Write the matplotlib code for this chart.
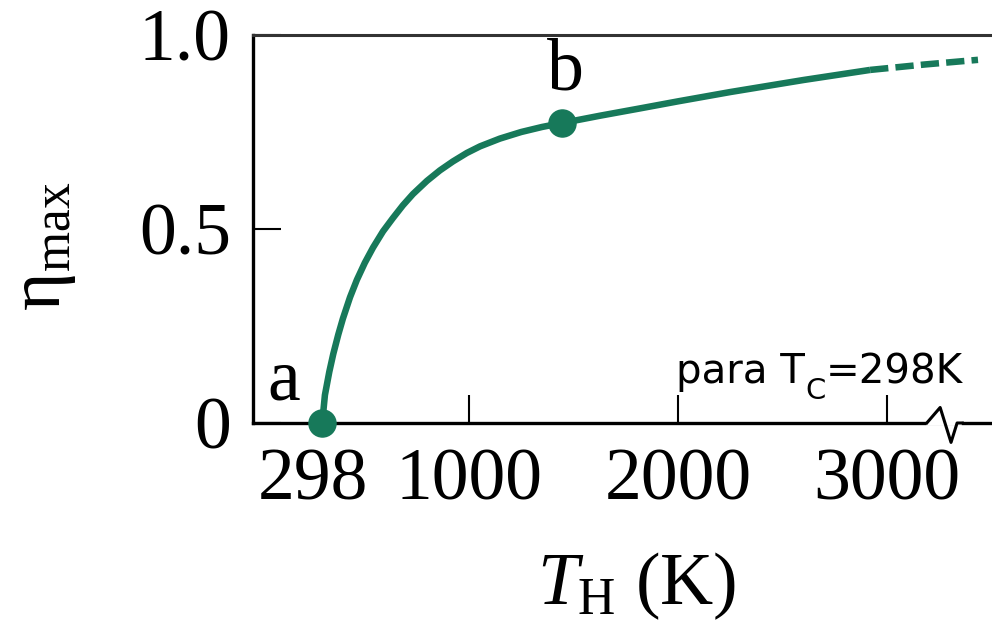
import matplotlib
matplotlib.use("Agg")
import matplotlib.pyplot as plt
import matplotlib.transforms as mtransforms

plt.rcParams['mathtext.fontset'] = 'custom'
plt.rcParams['mathtext.rm'] = 'Liberation Serif'
plt.rcParams['mathtext.it'] = 'Liberation Serif:italic'

# values
t_solid = [298, 311, 332, 351, 375, 397, 431, 464, 502, 541, 589, 636, 684, 732,
           799, 861, 923, 990, 1053, 1148, 1250, 1350, 1445, 1627, 1820, 2000,
           2250, 2600, 2919]
eta_solid = [0.0, 0.072, 0.132, 0.178, 0.228, 0.269, 0.324, 0.369, 0.413, 0.452,
             0.494, 0.528, 0.561, 0.590, 0.624, 0.651, 0.674, 0.696, 0.713, 0.733,
             0.750, 0.763, 0.773, 0.792, 0.811, 0.829, 0.853, 0.884, 0.91]
t_dash = [2919, 3180, 3435]
eta_dash = [0.91, 0.924, 0.936]
pts_t = [298, 1445]
pts_eta = [0.0, 0.773]
pt_names = ['a', 'b']

xticks = [298, 1000, 2000, 3000]
yticks = [0, 0.5, 1.0]
ytick_labels = ['0', '0.5', '1.0']

green = '#17795a'
serif = 'Liberation Serif'
big = 53

fig = plt.figure(figsize=(9.92, 6.2), dpi=100)
ax = fig.add_axes([253/992, 1-423/620, 1-253/992, (423-35)/620])

ax.plot(t_solid, eta_solid, color=green, lw=4.7, solid_capstyle='butt',
        solid_joinstyle='round', zorder=3)
ax.plot(t_dash, eta_dash, color=green, lw=4.7, dashes=(2.8, 1.1),
        dash_capstyle='butt', zorder=3)
ax.plot(pts_t, pts_eta, 'o', color=green, ms=19.5, clip_on=False, zorder=4)

ax.text(115, 0.106, pt_names[0], fontsize=big, family=serif, ha='center', va='center')
ax.text(1459, 0.905, pt_names[1], fontsize=big, family=serif, ha='center', va='center')

ax.set_xlim(-33, 3502)
ax.set_ylim(0, 1.0)
ax.set_xticks(xticks)
ax.set_xticklabels([str(t) for t in xticks], fontsize=big, family=serif)
ax.set_yticks(yticks)
ax.set_yticklabels(ytick_labels, fontsize=big, family=serif)
ax.tick_params(axis='both', direction='in', length=20, width=1.5)
ax.tick_params(axis='x', pad=18)
ax.tick_params(axis='y', pad=16)
ax.xaxis.get_major_ticks()[0].tick1line.set_visible(False)
lab0 = ax.get_xticklabels()[0]
lab0.set_transform(lab0.get_transform() + mtransforms.Affine2D().translate(-9, 0))

for s in ['left', 'bottom']:
    ax.spines[s].set_linewidth(2.4)
ax.spines['top'].set_linewidth(2.2)
ax.spines['top'].set_color('#333333')
ax.spines['right'].set_visible(False)

# axis break on the x axis
tr = mtransforms.blended_transform_factory(ax.transData, ax.transAxes)
ax.plot([3200, 3345], [0, 0], color='white', lw=4, transform=tr, clip_on=False, zorder=5)
ax.plot([3190, 3254, 3306, 3335, 3360], [0, 0.04, -0.05, 0, 0], color='black',
        lw=2.2, transform=tr, clip_on=False, zorder=6)

fig.text(42/992, 1-246/620, r'$\mathrm{\eta}_{\mathrm{max}}$', fontsize=big,
         rotation=90, ha='center', va='center')
fig.text(637/992, 1-586/620, r'$T_{\mathrm{H}}$ (K)', fontsize=big, family=serif,
         ha='center', va='center')

# "para T_C=298K" built from pieces so the subscript can be larger
fig.canvas.draw()
rend = fig.canvas.get_renderer()
t1 = ax.text(1990, 0.103, 'para T', fontsize=29, family='DejaVu Sans',
             ha='left', va='baseline')
w1 = t1.get_window_extent(rend).width
t2 = ax.text(1990, 0.103, 'C', fontsize=21, family='DejaVu Sans', ha='left',
             va='baseline',
             transform=mtransforms.offset_copy(ax.transData, fig, x=w1 + 1, y=-16,
                                               units='dots'))
w2 = t2.get_window_extent(rend).width
ax.text(1990, 0.103, '=298K', fontsize=29, family='DejaVu Sans', ha='left',
        va='baseline',
        transform=mtransforms.offset_copy(ax.transData, fig, x=w1 + w2 + 1, y=0,
                                          units='dots'))

fig.savefig('out.png', dpi=100)
